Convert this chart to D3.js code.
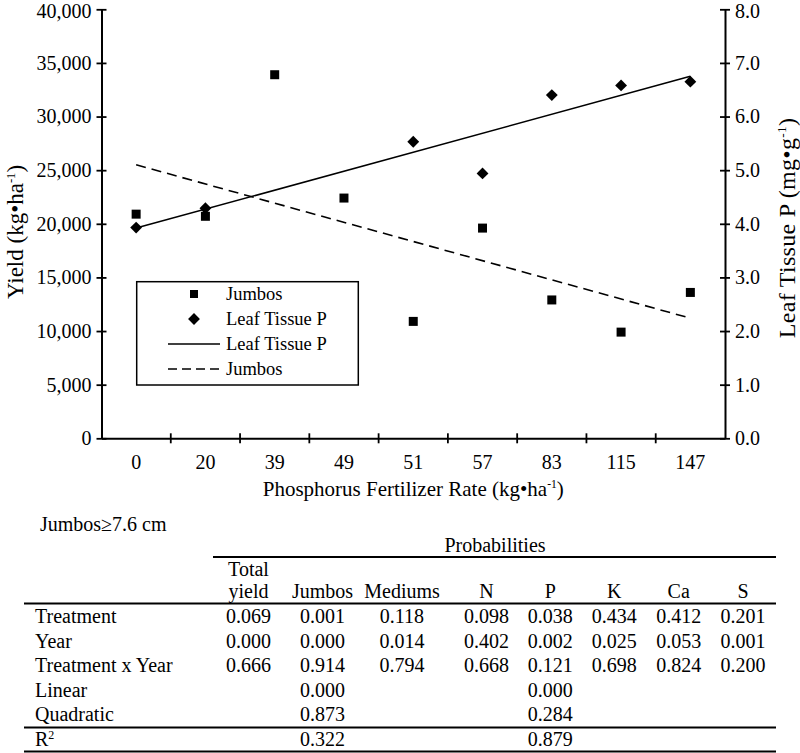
<!DOCTYPE html>
<html><head><meta charset="utf-8">
<script src="https://cdn.jsdelivr.net/npm/d3@7"></script>
<style>body{margin:0;background:#fff}svg{display:block}text{font-family:"Liberation Serif","Times New Roman",serif;fill:#000}</style>
</head><body>
<script>
// ---- data ----
const categories = ["0","20","39","49","51","57","83","115","147"];
const jumbos = [20900, 20700, 33900, 22400, 10900, 19600, 12900, 9900, 13600];
const leafP = [3.93, 4.29, null, null, 5.53, 4.94, 6.40, 6.58, 6.65];
const leafFit = [{cat:"0", v:3.92}, {cat:"147", v:6.75}];
const jumbosFit = [{cat:"0", v:25500}, {cat:"147", v:11200}];
const yLeftTicks = [0,5000,10000,15000,20000,25000,30000,35000,40000];
const yRightTicks = [0,1,2,3,4,5,6,7,8];
const tableCols = ["Total yield","Jumbos","Mediums","N","P","K","Ca","S"];
const tableRowLabels = ["Treatment","Year","Treatment x Year","Linear","Quadratic","R2"];
const tableRows = [
  ["0.069","0.001","0.118","0.098","0.038","0.434","0.412","0.201"],
  ["0.000","0.000","0.014","0.402","0.002","0.025","0.053","0.001"],
  ["0.666","0.914","0.794","0.668","0.121","0.698","0.824","0.200"],
  ["","0.000","","","0.000","","",""],
  ["","0.873","","","0.284","","",""],
  ["","0.322","","","0.879","","",""]
];

// ---- layout ----
const FF = '"Liberation Serif","Times New Roman",serif';
const W = 800, H = 753;
const svg = d3.select("body").append("svg").attr("width", W).attr("height", H).attr("font-family", FF);
const L = 101.5, R = 725, T = 9.3, B = 438.3;
const x = d3.scaleBand().domain(categories).range([L, R]).padding(0);
const yL = d3.scaleLinear().domain([0, 40000]).range([B, T]);
const yR = d3.scaleLinear().domain([0, 8]).range([B, T]);
const FS = 20;

// left axis
const gL = svg.append("g").attr("transform", `translate(${L},0)`)
  .call(d3.axisLeft(yL).tickValues(yLeftTicks).tickFormat(d3.format(",")).tickSizeOuter(0).tickSizeInner(5).tickPadding(7));
// right axis
const gR = svg.append("g").attr("transform", `translate(${R},0)`)
  .call(d3.axisRight(yR).tickValues(yRightTicks).tickFormat(d3.format(".1f")).tickSizeOuter(0).tickSizeInner(5).tickPadding(7));
// bottom axis (labels at centers)
const gB = svg.append("g").attr("transform", `translate(0,${B})`)
  .call(d3.axisBottom(x).tickSize(0).tickSizeOuter(0).tickPadding(17));
[gL, gR, gB].forEach(g => {
  g.attr("font-family", FF).attr("font-size", FS);
  g.select(".domain").attr("stroke", "#000").attr("stroke-width", 2);
  g.selectAll("text").attr("font-size", FS).attr("font-family", FF).attr("fill", "#000");
});
gL.selectAll(".tick line").attr("x1", -5).attr("x2", 5).attr("stroke-width", 1.8);
gR.selectAll(".tick line").attr("x1", -5).attr("x2", 5).attr("stroke-width", 1.8);
gL.selectAll(".tick text").attr("x", -10);
gR.selectAll(".tick text").attr("x", 10);
// keep the topmost tick labels inside the picture
gL.selectAll(".tick text").filter(d => d === yL.domain()[1]).attr("dy", "0.42em");
gR.selectAll(".tick text").filter(d => d === yR.domain()[1]).attr("dy", "0.42em");
// boundary ticks on x axis
svg.append("g").selectAll("line").data(categories.slice(0, -1)).join("line")
  .attr("x1", d => x(d) + x.bandwidth()).attr("x2", d => x(d) + x.bandwidth())
  .attr("y1", B - 5).attr("y2", B + 5).attr("stroke", "#000").attr("stroke-width", 1.8);

// fit lines
const cx = c => x(c) + x.bandwidth() / 2;
svg.append("path").datum(leafFit)
  .attr("d", d3.line().x(d => cx(d.cat)).y(d => yR(d.v)))
  .attr("stroke", "#000").attr("stroke-width", 1.6).attr("fill", "none");
svg.append("path").datum(jumbosFit)
  .attr("d", d3.line().x(d => cx(d.cat)).y(d => yL(d.v)))
  .attr("stroke", "#000").attr("stroke-width", 1.6).attr("fill", "none").attr("stroke-dasharray", "10,6");

// markers
const sq = d3.symbol(d3.symbolSquare, 81);
const dia = d3.symbol(d3.symbolSquare, 70);
svg.append("g").selectAll("path").data(categories.map((c, i) => ({c, v: jumbos[i]}))).join("path")
  .attr("d", sq).attr("transform", d => `translate(${cx(d.c)},${yL(d.v)})`).attr("fill", "#000");
svg.append("g").selectAll("path").data(categories.map((c, i) => ({c, v: leafP[i]})).filter(d => d.v != null)).join("path")
  .attr("d", dia).attr("transform", d => `translate(${cx(d.c)},${yR(d.v)}) rotate(45)`).attr("fill", "#000");

// axis titles
function supText(g, main, sup, tail) {
  g.append("tspan").text(main);
  g.append("tspan").text(sup).attr("font-size", "0.55em").attr("dy", "-0.65em");
  g.append("tspan").text(tail).attr("dy", "0.36em");
}
const xt = svg.append("text").attr("x", (L + R) / 2).attr("y", 496).attr("text-anchor", "middle").attr("font-size", 21);
supText(xt, "Phosphorus Fertilizer Rate (kg•ha", "-1", ")");
const ylt = svg.append("text").attr("transform", `translate(23,232) rotate(-90)`).attr("text-anchor", "middle").attr("font-size", 23);
supText(ylt, "Yield (kg•ha", "-1", ")");
const yrt = svg.append("text").attr("transform", `translate(795,228) rotate(-90)`).attr("text-anchor", "middle").attr("font-size", 24).attr("letter-spacing", 0.3);
supText(yrt, "Leaf Tissue P (mg•g", "-1", ")");

// legend
const lg = svg.append("g");
lg.append("rect").attr("x", 136.7).attr("y", 281.7).attr("width", 221.6).attr("height", 103.3)
  .attr("fill", "#fff").attr("stroke", "#000").attr("stroke-width", 1.5);
const legItems = [
  {label: "Jumbos", type: "sq"}, {label: "Leaf Tissue P", type: "dia"},
  {label: "Leaf Tissue P", type: "solid"}, {label: "Jumbos", type: "dash"}
];
legItems.forEach((d, i) => {
  const yy = 294 + i * 25;
  if (d.type === "sq") lg.append("path").attr("d", d3.symbol(d3.symbolSquare, 64)).attr("transform", `translate(194,${yy})`);
  if (d.type === "dia") lg.append("path").attr("d", dia).attr("transform", `translate(194,${yy}) rotate(45)`);
  if (d.type === "solid") lg.append("line").attr("x1", 168).attr("x2", 220).attr("y1", yy).attr("y2", yy).attr("stroke", "#000").attr("stroke-width", 1.3);
  if (d.type === "dash") lg.append("line").attr("x1", 168).attr("x2", 222).attr("y1", yy).attr("y2", yy).attr("stroke", "#000").attr("stroke-width", 1.3).attr("stroke-dasharray", "9,5");
  lg.append("text").attr("x", 226).attr("y", yy + 6).attr("font-size", 18.5).text(d.label);
});

// ---- table ----
const tg = svg.append("g").attr("font-size", FS);
tg.append("text").attr("x", 40).attr("y", 531).text("Jumbos≥7.6 cm");
tg.append("text").attr("x", 495).attr("y", 552).attr("text-anchor", "middle").text("Probabilities");
const colX = [248.5, 322.5, 402, 486.5, 550.3, 614.3, 678.7, 743];
const hline = (x1, x2, y) => tg.append("line").attr("x1", x1).attr("x2", x2).attr("y1", y).attr("y2", y).attr("stroke", "#000").attr("stroke-width", 1.8);
hline(213, 776, 557);
hline(24, 776, 603.5);
hline(24, 776, 727.5);
hline(24, 776, 751.5);
tableCols.forEach((c, i) => {
  if (c === "Total yield") {
    const parts = c.split(" ");
    tg.append("text").attr("x", colX[i]).attr("y", 576).attr("text-anchor", "middle").text(parts[0]);
    tg.append("text").attr("x", colX[i]).attr("y", 598).attr("text-anchor", "middle").text(parts[1]);
  } else {
    tg.append("text").attr("x", colX[i]).attr("y", 598).attr("text-anchor", "middle").text(c);
  }
});
const rowY = [623, 647.5, 672, 696.5, 720.5, 746];
tableRowLabels.forEach((r, i) => {
  const t = tg.append("text").attr("x", 35).attr("y", rowY[i]);
  if (r === "R2") { t.append("tspan").text("R"); t.append("tspan").text("2").attr("font-size", "0.6em").attr("dy", "-0.6em"); }
  else t.text(r);
  tableRows[i].forEach((v, j) => {
    if (v) tg.append("text").attr("x", colX[j]).attr("y", rowY[i]).attr("text-anchor", "middle").text(v);
  });
});
</script>
</body></html>
